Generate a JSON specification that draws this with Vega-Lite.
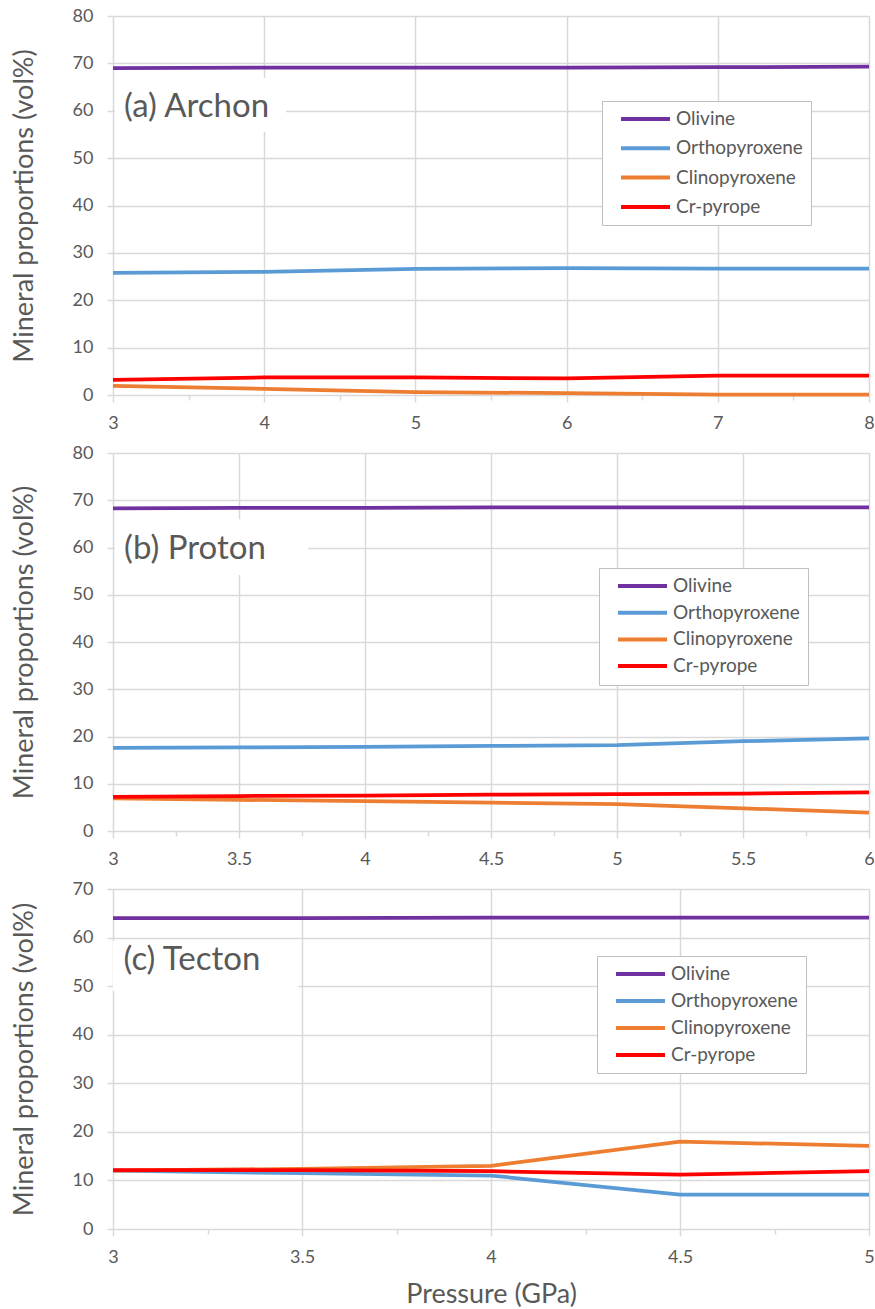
{
  "$schema": "https://vega.github.io/schema/vega-lite/v6.json",
  "padding": {"left": 10, "top": 7, "right": 2, "bottom": 2},
  "spacing": 12,
  "config": {
    "font": "Lato",
    "view": {"stroke": null},
    "axis": {
      "labelFont": "Lato", "labelFontSize": 18, "labelColor": "#595959",
      "titleFont": "Lato", "titleFontSize": 27, "titleColor": "#595959", "titleFontWeight": "normal",
      "gridColor": "#d9d9d9", "gridWidth": 1.5, "tickColor": "#d9d9d9", "tickWidth": 1.5, "domain": false
    },
    "axisY": {"tickSize": 6, "labelPadding": 14, "titlePadding": 34},
    "axisX": {"labelPadding": 12, "labelFlush": false, "titlePadding": 15},
    "legend": {
      "labelFont": "Lato", "labelFontSize": 19, "labelColor": "#595959",
      "symbolType": "stroke", "symbolStrokeWidth": 4, "symbolSize": 2401,
      "clipHeight": 20, "padding": 8, "symbolOffset": 9, "labelOffset": 4,
      "strokeColor": "#bfbfbf", "fillColor": "white"
    }
  },
  "resolve": {"scale": {"x": "independent", "y": "independent", "color": "independent"}, "legend": {"color": "independent"}},
  "datasets": {
    "minerals": [
      {"rock": "Archon", "P": 3, "mineral": "Olivine", "vol": 69.0},
      {"rock": "Archon", "P": 4, "mineral": "Olivine", "vol": 69.1},
      {"rock": "Archon", "P": 5, "mineral": "Olivine", "vol": 69.1},
      {"rock": "Archon", "P": 6, "mineral": "Olivine", "vol": 69.1},
      {"rock": "Archon", "P": 7, "mineral": "Olivine", "vol": 69.2},
      {"rock": "Archon", "P": 8, "mineral": "Olivine", "vol": 69.3},
      {"rock": "Archon", "P": 3, "mineral": "Orthopyroxene", "vol": 25.8},
      {"rock": "Archon", "P": 4, "mineral": "Orthopyroxene", "vol": 26.0},
      {"rock": "Archon", "P": 5, "mineral": "Orthopyroxene", "vol": 26.6},
      {"rock": "Archon", "P": 6, "mineral": "Orthopyroxene", "vol": 26.8},
      {"rock": "Archon", "P": 7, "mineral": "Orthopyroxene", "vol": 26.7},
      {"rock": "Archon", "P": 8, "mineral": "Orthopyroxene", "vol": 26.7},
      {"rock": "Archon", "P": 3, "mineral": "Clinopyroxene", "vol": 1.9},
      {"rock": "Archon", "P": 4, "mineral": "Clinopyroxene", "vol": 1.3},
      {"rock": "Archon", "P": 5, "mineral": "Clinopyroxene", "vol": 0.6},
      {"rock": "Archon", "P": 6, "mineral": "Clinopyroxene", "vol": 0.4},
      {"rock": "Archon", "P": 7, "mineral": "Clinopyroxene", "vol": 0.1},
      {"rock": "Archon", "P": 8, "mineral": "Clinopyroxene", "vol": 0.1},
      {"rock": "Archon", "P": 3, "mineral": "Cr-pyrope", "vol": 3.2},
      {"rock": "Archon", "P": 4, "mineral": "Cr-pyrope", "vol": 3.7},
      {"rock": "Archon", "P": 5, "mineral": "Cr-pyrope", "vol": 3.7},
      {"rock": "Archon", "P": 6, "mineral": "Cr-pyrope", "vol": 3.5},
      {"rock": "Archon", "P": 7, "mineral": "Cr-pyrope", "vol": 4.1},
      {"rock": "Archon", "P": 8, "mineral": "Cr-pyrope", "vol": 4.1},
      {"rock": "Proton", "P": 3, "mineral": "Olivine", "vol": 68.3},
      {"rock": "Proton", "P": 3.5, "mineral": "Olivine", "vol": 68.4},
      {"rock": "Proton", "P": 4, "mineral": "Olivine", "vol": 68.4},
      {"rock": "Proton", "P": 4.5, "mineral": "Olivine", "vol": 68.5},
      {"rock": "Proton", "P": 5, "mineral": "Olivine", "vol": 68.5},
      {"rock": "Proton", "P": 5.5, "mineral": "Olivine", "vol": 68.5},
      {"rock": "Proton", "P": 6, "mineral": "Olivine", "vol": 68.5},
      {"rock": "Proton", "P": 3, "mineral": "Orthopyroxene", "vol": 17.6},
      {"rock": "Proton", "P": 3.5, "mineral": "Orthopyroxene", "vol": 17.7},
      {"rock": "Proton", "P": 4, "mineral": "Orthopyroxene", "vol": 17.8},
      {"rock": "Proton", "P": 4.5, "mineral": "Orthopyroxene", "vol": 18.0},
      {"rock": "Proton", "P": 5, "mineral": "Orthopyroxene", "vol": 18.2},
      {"rock": "Proton", "P": 5.5, "mineral": "Orthopyroxene", "vol": 19.0},
      {"rock": "Proton", "P": 6, "mineral": "Orthopyroxene", "vol": 19.6},
      {"rock": "Proton", "P": 3, "mineral": "Clinopyroxene", "vol": 6.9},
      {"rock": "Proton", "P": 3.5, "mineral": "Clinopyroxene", "vol": 6.6},
      {"rock": "Proton", "P": 4, "mineral": "Clinopyroxene", "vol": 6.3},
      {"rock": "Proton", "P": 4.5, "mineral": "Clinopyroxene", "vol": 6.0},
      {"rock": "Proton", "P": 5, "mineral": "Clinopyroxene", "vol": 5.7},
      {"rock": "Proton", "P": 5.5, "mineral": "Clinopyroxene", "vol": 4.8},
      {"rock": "Proton", "P": 6, "mineral": "Clinopyroxene", "vol": 3.9},
      {"rock": "Proton", "P": 3, "mineral": "Cr-pyrope", "vol": 7.2},
      {"rock": "Proton", "P": 3.5, "mineral": "Cr-pyrope", "vol": 7.4},
      {"rock": "Proton", "P": 4, "mineral": "Cr-pyrope", "vol": 7.5},
      {"rock": "Proton", "P": 4.5, "mineral": "Cr-pyrope", "vol": 7.7},
      {"rock": "Proton", "P": 5, "mineral": "Cr-pyrope", "vol": 7.8},
      {"rock": "Proton", "P": 5.5, "mineral": "Cr-pyrope", "vol": 7.9},
      {"rock": "Proton", "P": 6, "mineral": "Cr-pyrope", "vol": 8.2},
      {"rock": "Tecton", "P": 3, "mineral": "Olivine", "vol": 64.0},
      {"rock": "Tecton", "P": 3.5, "mineral": "Olivine", "vol": 64.0},
      {"rock": "Tecton", "P": 4, "mineral": "Olivine", "vol": 64.1},
      {"rock": "Tecton", "P": 4.5, "mineral": "Olivine", "vol": 64.1},
      {"rock": "Tecton", "P": 5, "mineral": "Olivine", "vol": 64.1},
      {"rock": "Tecton", "P": 3, "mineral": "Orthopyroxene", "vol": 12.0},
      {"rock": "Tecton", "P": 3.5, "mineral": "Orthopyroxene", "vol": 11.5},
      {"rock": "Tecton", "P": 4, "mineral": "Orthopyroxene", "vol": 11.0},
      {"rock": "Tecton", "P": 4.5, "mineral": "Orthopyroxene", "vol": 7.1},
      {"rock": "Tecton", "P": 5, "mineral": "Orthopyroxene", "vol": 7.1},
      {"rock": "Tecton", "P": 3, "mineral": "Clinopyroxene", "vol": 12.0},
      {"rock": "Tecton", "P": 3.5, "mineral": "Clinopyroxene", "vol": 12.4},
      {"rock": "Tecton", "P": 4, "mineral": "Clinopyroxene", "vol": 13.0},
      {"rock": "Tecton", "P": 4.5, "mineral": "Clinopyroxene", "vol": 18.0},
      {"rock": "Tecton", "P": 5, "mineral": "Clinopyroxene", "vol": 17.1},
      {"rock": "Tecton", "P": 3, "mineral": "Cr-pyrope", "vol": 12.1},
      {"rock": "Tecton", "P": 3.5, "mineral": "Cr-pyrope", "vol": 12.1},
      {"rock": "Tecton", "P": 4, "mineral": "Cr-pyrope", "vol": 11.9},
      {"rock": "Tecton", "P": 4.5, "mineral": "Cr-pyrope", "vol": 11.2},
      {"rock": "Tecton", "P": 5, "mineral": "Cr-pyrope", "vol": 11.9}
    ]
  },
  "vconcat": [
    {
      "width": 756, "height": 379,
      "layer": [
        {
          "data": {"name": "minerals"},
          "transform": [{"filter": "datum.rock === 'Archon'"}],
          "mark": {"type": "line", "strokeWidth": 3.75, "interpolate": "linear", "strokeJoin": "round"},
          "encoding": {
            "x": {"field": "P", "type": "quantitative", "scale": {"domain": [3, 8], "nice": false, "zero": false},
              "axis": {"title": null, "values": [3, 3.5, 4, 4.5, 5, 5.5, 6, 6.5, 7, 7.5, 8], "format": "~g",
                "labelExpr": "datum.value % 1 === 0 ? datum.label : ''",
                "gridOpacity": {"condition": {"test": "datum.value % 1 === 0", "value": 1}, "value": 0},
                "tickSize": {"condition": {"test": "datum.value % 1 === 0", "value": 7}, "value": 5}}},
            "y": {"field": "vol", "type": "quantitative", "scale": {"domain": [0, 80], "nice": false},
              "axis": {"title": "Mineral proportions (vol%)", "values": [0, 10, 20, 30, 40, 50, 60, 70, 80]}},
            "color": {"field": "mineral", "type": "nominal",
              "scale": {"domain": ["Olivine", "Orthopyroxene", "Clinopyroxene", "Cr-pyrope"], "range": ["#7030a0", "#5b9bd5", "#ed7d31", "#ff0000"]},
              "legend": {"title": null, "orient": "none", "legendX": 489, "legendY": 85, "rowPadding": 9.3}}
          }
        },
        {
          "data": {"values": [{}]},
          "mark": {"type": "rect", "fill": "white"},
          "encoding": {
            "x": {"datum": 3.013, "type": "quantitative"}, "x2": {"datum": 4.144},
            "y": {"datum": 66.9, "type": "quantitative"}, "y2": {"datum": 55.5}
          }
        },
        {
          "data": {"values": [{}]},
          "mark": {"type": "text", "align": "left", "baseline": "alphabetic", "fontSize": 33, "font": "Lato", "fill": "#595959"},
          "encoding": {
            "x": {"datum": 3.073, "type": "quantitative"},
            "y": {"datum": 58.7, "type": "quantitative"},
            "text": {"value": "(a) Archon"}
          }
        }
      ]
    },
    {
      "width": 756, "height": 378,
      "layer": [
        {
          "data": {"name": "minerals"},
          "transform": [{"filter": "datum.rock === 'Proton'"}],
          "mark": {"type": "line", "strokeWidth": 3.75, "interpolate": "linear", "strokeJoin": "round"},
          "encoding": {
            "x": {"field": "P", "type": "quantitative", "scale": {"domain": [3, 6], "nice": false, "zero": false},
              "axis": {"title": null, "values": [3, 3.25, 3.5, 3.75, 4, 4.25, 4.5, 4.75, 5, 5.25, 5.5, 5.75, 6], "format": "~g",
                "labelExpr": "datum.value * 2 % 1 === 0 ? datum.label : ''",
                "gridOpacity": {"condition": {"test": "datum.value * 2 % 1 === 0", "value": 1}, "value": 0},
                "tickSize": {"condition": {"test": "datum.value * 2 % 1 === 0", "value": 7}, "value": 5}}},
            "y": {"field": "vol", "type": "quantitative", "scale": {"domain": [0, 80], "nice": false},
              "axis": {"title": "Mineral proportions (vol%)", "values": [0, 10, 20, 30, 40, 50, 60, 70, 80]}},
            "color": {"field": "mineral", "type": "nominal",
              "scale": {"domain": ["Olivine", "Orthopyroxene", "Clinopyroxene", "Cr-pyrope"], "range": ["#7030a0", "#5b9bd5", "#ed7d31", "#ff0000"]},
              "legend": {"title": null, "orient": "none", "legendX": 486, "legendY": 115, "rowPadding": 6.7}}
          }
        },
        {
          "data": {"values": [{}]},
          "mark": {"type": "rect", "fill": "white"},
          "encoding": {
            "x": {"datum": 3.008, "type": "quantitative"}, "x2": {"datum": 3.775},
            "y": {"datum": 66.0, "type": "quantitative"}, "y2": {"datum": 54.2}
          }
        },
        {
          "data": {"values": [{}]},
          "mark": {"type": "text", "align": "left", "baseline": "alphabetic", "fontSize": 33, "font": "Lato", "fill": "#595959"},
          "encoding": {
            "x": {"datum": 3.044, "type": "quantitative"},
            "y": {"datum": 57.6, "type": "quantitative"},
            "text": {"value": "(b) Proton"}
          }
        }
      ]
    },
    {
      "width": 756, "height": 340,
      "layer": [
        {
          "data": {"name": "minerals"},
          "transform": [{"filter": "datum.rock === 'Tecton'"}],
          "mark": {"type": "line", "strokeWidth": 3.75, "interpolate": "linear", "strokeJoin": "round"},
          "encoding": {
            "x": {"field": "P", "type": "quantitative", "scale": {"domain": [3, 5], "nice": false, "zero": false},
              "axis": {"title": "Pressure (GPa)", "values": [3, 3.25, 3.5, 3.75, 4, 4.25, 4.5, 4.75, 5], "format": "~g",
                "labelExpr": "datum.value * 2 % 1 === 0 ? datum.label : ''",
                "gridOpacity": {"condition": {"test": "datum.value * 2 % 1 === 0", "value": 1}, "value": 0},
                "tickSize": {"condition": {"test": "datum.value * 2 % 1 === 0", "value": 7}, "value": 5}}},
            "y": {"field": "vol", "type": "quantitative", "scale": {"domain": [0, 70], "nice": false},
              "axis": {"title": "Mineral proportions (vol%)", "values": [0, 10, 20, 30, 40, 50, 60, 70]}},
            "color": {"field": "mineral", "type": "nominal",
              "scale": {"domain": ["Olivine", "Orthopyroxene", "Clinopyroxene", "Cr-pyrope"], "range": ["#7030a0", "#5b9bd5", "#ed7d31", "#ff0000"]},
              "legend": {"title": null, "orient": "none", "legendX": 484, "legendY": 67, "rowPadding": 7}}
          }
        },
        {
          "data": {"values": [{}]},
          "mark": {"type": "rect", "fill": "white"},
          "encoding": {
            "x": {"datum": 3.0, "type": "quantitative"}, "x2": {"datum": 3.49},
            "y": {"datum": 59.3, "type": "quantitative"}, "y2": {"datum": 49.0}
          }
        },
        {
          "data": {"values": [{}]},
          "mark": {"type": "text", "align": "left", "baseline": "alphabetic", "fontSize": 33, "font": "Lato", "fill": "#595959"},
          "encoding": {
            "x": {"datum": 3.028, "type": "quantitative"},
            "y": {"datum": 53.3, "type": "quantitative"},
            "text": {"value": "(c) Tecton"}
          }
        }
      ]
    }
  ]
}
